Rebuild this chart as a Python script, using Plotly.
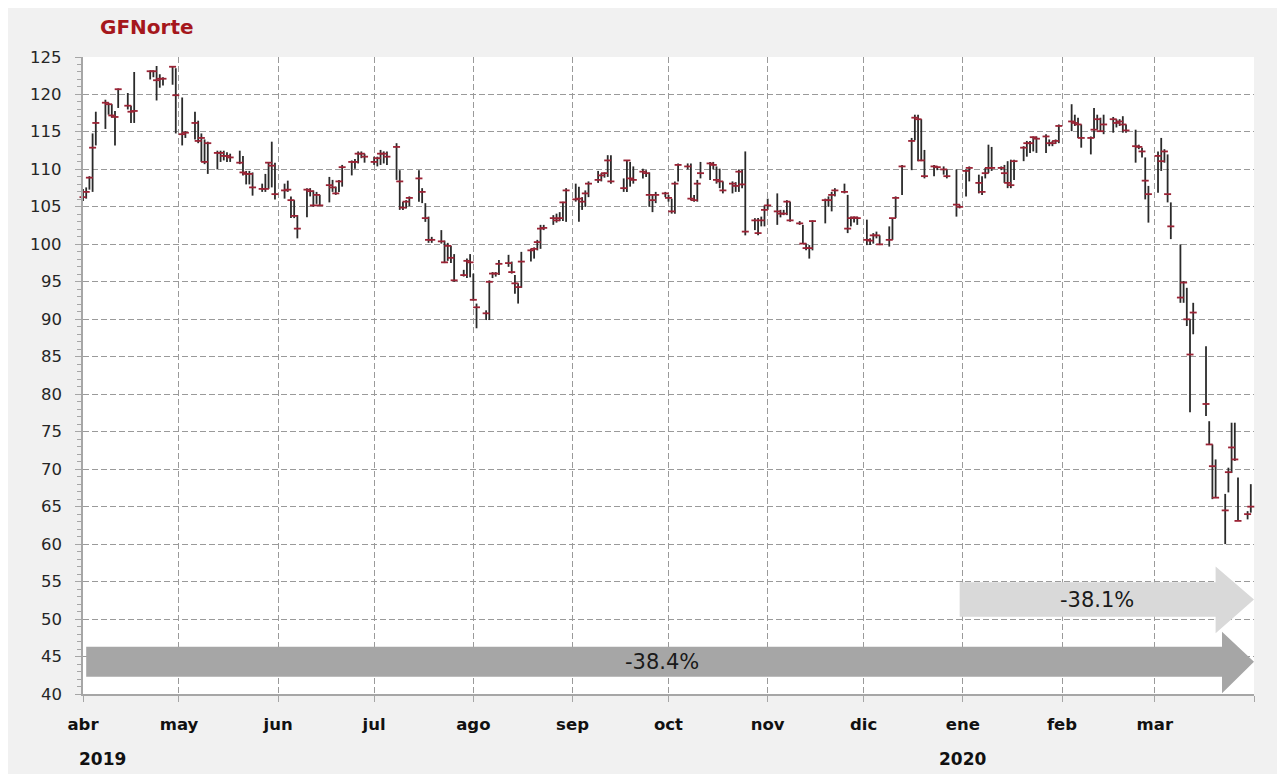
import pandas as pd
import plotly.graph_objects as go

# ---------------- data ----------------
holidays = ["2019-04-18", "2019-04-19", "2019-05-01", "2019-09-16", "2019-11-18",
            "2019-12-12", "2019-12-25", "2020-01-01", "2020-02-03", "2020-03-16"]

high = [
    # abr 2019
    107.4, 107.6, 109.1, 114.8, 117.7, 119.3, 118.9, 118.7, 117.8, 120.8,
    120.2, 118.5, 123.0, 123.2, 123.2, 123.8, 122.7, 122.3, 123.8, 123.5,
    # may
    119.6, 115.1, 117.7, 116.5, 114.8, 114.0, 113.7, 112.5, 112.5, 112.5, 112.3,
    112.1, 112.5, 111.8, 109.8, 109.8, 109.6, 108.1, 109.4, 110.9, 113.7, 110.9,
    # jun
    108.1, 108.5, 106.4, 105.9, 103.9, 107.5, 107.5, 107.2, 107.0, 106.6,
    109.0, 108.6, 107.7, 108.6, 110.6, 111.2, 111.4, 112.4, 112.4, 112.1,
    # jul
    111.7, 111.7, 112.6, 112.4, 112.4, 113.5, 109.9, 105.7, 105.9, 106.4, 109.9, 107.5,
    105.5, 103.7, 101.0, 101.9, 100.5, 100.2, 99.8, 98.7, 96.6, 98.1, 98.7,
    # ago
    96.1, 92.1, 91.2, 95.2, 96.3, 96.3, 97.9, 98.6, 97.7, 95.9, 94.8,
    99.0, 99.4, 99.6, 100.6, 102.6, 102.6, 103.9, 104.1, 104.3, 105.7, 107.5,
    # sep
    108.1, 107.7, 106.3, 107.2, 108.4, 109.8, 109.5, 109.6, 111.9, 111.9,
    108.8, 111.2, 111.0, 110.4, 110.1, 109.9, 109.6, 106.6, 107.0, 107.0,
    # oct
    106.6, 106.1, 108.4, 110.8, 110.8, 110.8, 106.6, 108.6, 111.0, 111.0, 111.0, 110.4,
    110.1, 108.4, 108.4, 108.3, 110.0, 110.0, 112.4, 103.5, 103.5, 103.7, 105.2,
    # nov
    106.1, 106.8, 104.6, 104.6, 105.9, 105.7, 103.1, 102.6, 100.1, 99.9,
    103.2, 106.1, 106.4, 107.0, 107.5, 108.1, 106.6, 103.7, 103.7, 103.7,
    # dic
    103.3, 100.8, 101.5, 101.7, 101.2, 102.4, 103.5, 106.4, 110.6, 114.2,
    117.3, 117.3, 116.7, 112.6, 110.6, 110.4, 110.4, 110.0, 110.0, 105.3,
    # ene 2020
    110.0, 110.4, 109.3, 109.1, 110.2, 113.3, 113.0, 110.4, 110.6, 111.1, 111.3,
    111.3, 113.1, 113.8, 113.8, 114.4, 114.4, 114.7, 114.0, 113.8, 114.0, 116.0,
    # feb
    118.7, 117.3, 116.9, 116.0, 114.4, 118.2, 117.3, 116.9, 117.3, 117.0,
    116.7, 116.7, 117.1, 116.0, 115.3, 113.3, 112.9, 111.6, 107.8,
    # mar
    112.4, 114.2, 112.7, 112.0, 105.6, 100.0, 95.1, 94.2, 90.0, 92.2, 86.4,
    76.4, 73.3, 71.3, 66.7, 70.2, 76.2, 76.2, 68.9, 64.4, 68.0,
]

low = [
    # abr 2019
    105.8, 106.1, 107.3, 107.0, 113.2, 115.4, 117.3, 116.9, 113.2, 118.2,
    118.0, 116.2, 116.2, 122.0, 122.3, 119.2, 120.9, 121.2, 121.3, 114.8,
    # may
    113.2, 114.2, 114.0, 113.5, 111.0, 110.7, 109.4, 110.0, 111.0, 111.2, 111.0,
    111.0, 110.7, 109.2, 108.0, 108.0, 106.5, 107.0, 107.0, 107.4, 107.6, 106.0,
    # jun
    106.1, 107.0, 103.5, 103.5, 100.8, 103.6, 106.4, 105.0, 105.4, 105.2,
    105.6, 107.0, 106.6, 107.0, 107.7, 109.2, 110.1, 110.8, 111.5, 110.9,
    # jul
    110.6, 110.4, 110.6, 110.8, 110.6, 108.6, 104.6, 104.6, 104.8, 105.1, 105.7, 105.5,
    103.0, 100.2, 100.2, 100.1, 97.5, 97.8, 97.5, 95.0, 95.7, 95.5, 95.6,
    # ago
    92.5, 88.8, 89.9, 89.9, 95.5, 95.7, 95.9, 97.0, 96.1, 93.4, 92.1,
    94.2, 97.7, 98.1, 99.2, 99.4, 101.9, 102.6, 102.9, 103.1, 103.1, 103.0,
    # sep
    105.7, 103.0, 104.6, 105.0, 106.3, 108.2, 108.4, 108.9, 109.0, 108.1,
    107.0, 107.0, 107.7, 108.1, 108.8, 109.0, 105.0, 104.3, 105.5, 106.3,
    # oct
    105.7, 104.1, 104.1, 108.4, 110.0, 105.9, 105.7, 105.7, 108.8, 108.6, 110.0, 108.1,
    107.5, 106.8, 106.8, 107.0, 107.0, 107.5, 101.2, 101.9, 101.2, 102.4, 102.4,
    # nov
    104.6, 102.6, 103.6, 103.9, 103.9, 103.0, 102.6, 100.1, 99.2, 98.1,
    99.2, 102.8, 105.0, 104.4, 106.4, 106.8, 101.5, 102.4, 102.9, 102.6,
    # dic
    99.9, 99.9, 100.1, 100.8, 99.9, 99.7, 100.6, 103.5, 106.6, 109.9,
    113.9, 111.1, 111.1, 108.8, 109.1, 109.9, 109.3, 108.8, 103.7, 104.8,
    # ene 2020
    106.4, 108.4, 106.8, 106.6, 108.8, 109.5, 109.8, 109.9, 108.2, 107.5, 107.5,
    108.6, 111.1, 111.7, 112.2, 112.4, 112.2, 112.2, 113.1, 113.1, 113.4, 113.5,
    # feb
    115.1, 115.8, 114.2, 112.9, 112.0, 114.2, 115.3, 115.0, 114.7, 114.9,
    115.6, 115.8, 114.9, 114.9, 110.9, 112.7, 111.6, 106.0, 102.9,
    # mar
    106.9, 109.8, 110.9, 105.6, 100.7, 92.2, 92.2, 89.1, 77.6, 88.0, 77.1,
    73.3, 66.0, 66.2, 60.0, 66.9, 69.5, 71.1, 63.1, 63.3, 64.2,
]

close = [
    # abr 2019
    106.3, 107.0, 108.9, 112.9, 116.2, 118.9, 118.7, 117.2, 117.0, 120.7,
    118.5, 117.7, 117.8, 123.1, 123.1, 121.9, 122.1, 122.1, 123.7, 119.9,
    # may
    114.7, 114.9, 116.2, 113.8, 114.2, 111.0, 113.5, 112.2, 112.2, 111.8, 111.8,
    111.6, 110.9, 109.6, 109.4, 109.4, 107.6, 107.4, 107.4, 110.9, 110.5, 106.7,
    # jun
    107.2, 107.3, 105.9, 103.8, 102.1, 107.3, 107.1, 105.2, 106.6, 105.2,
    107.9, 107.6, 106.8, 108.4, 110.3, 111.0, 111.0, 112.1, 112.1, 111.7,
    # jul
    111.0, 111.5, 112.1, 112.1, 111.7, 113.0, 108.4, 104.9, 105.7, 106.2, 108.8, 107.0,
    103.5, 100.6, 100.6, 100.4, 97.6, 99.8, 98.2, 95.2, 95.9, 97.8, 97.6,
    # ago
    92.6, 91.6, 90.8, 95.0, 96.1, 96.1, 97.4, 97.5, 96.3, 94.8, 94.3,
    97.7, 99.2, 99.4, 100.3, 102.1, 102.2, 103.5, 103.2, 103.5, 105.6, 107.2,
    # sep
    106.0, 106.1, 105.7, 106.8, 108.1, 108.6, 109.2, 109.5, 111.2, 108.4,
    107.5, 111.2, 108.8, 108.6, 109.7, 109.5, 106.6, 105.9, 106.6, 106.8,
    # oct
    106.2, 104.4, 108.1, 110.6, 110.4, 106.1, 105.9, 108.1, 109.5, 110.8, 110.6, 108.6,
    108.4, 107.2, 108.1, 107.8, 109.7, 108.0, 101.7, 103.2, 101.5, 103.2, 104.6,
    # nov
    105.2, 104.4, 104.1, 104.1, 105.7, 103.2, 102.8, 100.1, 99.5, 99.5,
    103.1, 105.9, 105.9, 106.6, 107.2, 107.0, 102.1, 103.5, 103.6, 103.5,
    # dic
    100.6, 100.5, 101.2, 101.2, 100.0, 100.6, 103.5, 106.2, 110.4, 113.8,
    116.9, 116.7, 111.2, 109.1, 110.4, 110.3, 110.0, 109.1, 105.3, 105.0,
    # ene 2020
    109.8, 110.2, 108.2, 107.0, 109.5, 110.2, 110.2, 110.2, 109.5, 108.2, 107.9,
    111.1, 112.9, 113.5, 113.5, 114.3, 114.1, 114.4, 113.5, 113.5, 113.8, 115.8,
    # feb
    116.4, 116.2, 116.0, 114.2, 114.2, 115.3, 116.7, 115.1, 116.0, 116.7,
    116.2, 116.4, 116.0, 115.2, 113.1, 113.0, 112.4, 108.5, 106.7,
    # mar
    111.8, 111.1, 112.4, 106.7, 102.4, 92.9, 94.9, 90.0, 85.3, 90.9, 78.7,
    73.3, 70.4, 66.2, 64.5, 69.6, 72.9, 71.3, 63.1, 64.0, 65.0,
]

month_ticks = ["2019-04-01", "2019-05-01", "2019-06-01", "2019-07-01", "2019-08-01",
               "2019-09-01", "2019-10-01", "2019-11-01", "2019-12-01", "2020-01-01",
               "2020-02-01", "2020-03-01", "2020-04-01"]
month_labels = ["abr", "may", "jun", "jul", "ago", "sep", "oct", "nov", "dic",
                "ene", "feb", "mar", ""]
year_labels = ["2019", "2020"]
year_dates = ["2019-04-07", "2020-01-01"]
y_ticks = [40, 45, 50, 55, 60, 65, 70, 75, 80, 85, 90, 95, 100, 105, 110, 115, 120, 125]

change_labels = ["-38.4%", "-38.1%"]
change_start = ["2019-04-02", "2019-12-31"]
change_end = "2020-04-01"

# ---------------- derived ----------------
dates = [d for d in pd.bdate_range("2019-04-01", "2020-03-31")
         if d.strftime("%Y-%m-%d") not in holidays]
n = min(len(dates), len(high), len(low), len(close))
dates = dates[:n]
err_up = [h - c for h, c in zip(high[:n], close[:n])]
err_dn = [c - l for l, c in zip(low[:n], close[:n])]

FONT = "DejaVu Sans, Noto Sans, sans-serif"

fig = go.Figure()


def arrow(x0, x_head, x_tip, y_lo, y_hi, head_lo, head_hi, color):
    ym = (y_lo + y_hi) / 2
    xs = [x0, x_head, x_head, x_tip, x_head, x_head, x0, x0]
    ys = [y_lo, y_lo, head_lo, ym, head_hi, y_hi, y_hi, y_lo]
    return go.Scatter(x=xs, y=ys, mode="lines", fill="toself", fillcolor=color,
                      line=dict(width=0, color=color), hoverinfo="skip",
                      showlegend=False, cliponaxis=False)


fig.add_trace(arrow(change_start[0], "2020-03-22", change_end,
                    42.3, 46.3, 40.1, 48.3, "#a6a6a6"))
fig.add_trace(arrow(change_start[1], "2020-03-20", change_end,
                    50.3, 54.9, 48.1, 57.0, "#d9d9d9"))

fig.add_trace(go.Scatter(
    x=dates, y=close[:n], mode="markers",
    marker=dict(symbol="line-ew", size=5, color="#9b2335",
                line=dict(width=1.8, color="#9b2335")),
    error_y=dict(type="data", symmetric=False, array=err_up, arrayminus=err_dn,
                 color="#2a2a2a", thickness=1.8, width=0),
    cliponaxis=False, showlegend=False, name="GFNorte",
))

grid = "#9a9a9a"
fig.update_layout(
    width=1269, height=766,
    margin=dict(l=75, r=23, t=49, b=80),
    paper_bgcolor="#f1f1f1", plot_bgcolor="#ffffff",
    font=dict(family=FONT, color="#262626"),
    showlegend=False,
    xaxis=dict(
        type="date", range=["2019-04-01", "2020-04-01"],
        tickmode="array", tickvals=month_ticks, ticktext=month_labels,
        showgrid=True, gridcolor=grid, griddash="6px,3px", gridwidth=1,
        showline=True, linecolor="#a6a6a6", linewidth=1.5,
        ticks="outside", ticklen=6, tickcolor="#a6a6a6",
        tickfont=dict(size=16.5, color="#111111", family=FONT, weight="bold"),
        ticklabelstandoff=8,
        zeroline=False,
    ),
    yaxis=dict(
        range=[40, 125], tickmode="array", tickvals=y_ticks,
        showgrid=True, gridcolor=grid, griddash="6px,3px", gridwidth=1,
        showline=True, linecolor="#a6a6a6", linewidth=1.5,
        ticks="outside", ticklen=6, tickcolor="#a6a6a6",
        minor=dict(dtick=1, ticks="outside", ticklen=4, tickcolor="#a6a6a6",
                   showgrid=False),
        showticklabels=False,
        zeroline=False,
    ),
)

# y tick labels placed further from the axis (as in the reference)
for v in y_ticks:
    fig.add_annotation(text=str(v), xref="paper", yref="y", x=-0.0158, y=v,
                       xanchor="right", yanchor="middle", showarrow=False,
                       font=dict(size=16.5, color="#262626", family=FONT))

# title
fig.add_annotation(text="<b>GFNorte</b>", xref="paper", yref="paper",
                   x=0.0125, y=1.0475, xanchor="left", yanchor="middle",
                   showarrow=False, font=dict(size=20, color="#a5171c", family=FONT))

# years
for lab, d in zip(year_labels, year_dates):
    fig.add_annotation(text=f"<b>{lab}</b>", x=d, xref="x", yref="paper", y=-0.1016,
                       xanchor="center", yanchor="middle", showarrow=False,
                       font=dict(size=17, color="#111111", family=FONT))

# change labels
fig.add_annotation(text=change_labels[0], x="2019-09-29", y=44.3, xref="x", yref="y",
                   showarrow=False, font=dict(size=21, color="#1a1a1a", family=FONT))
fig.add_annotation(text=change_labels[1], x="2020-02-12", y=52.6, xref="x", yref="y",
                   showarrow=False, font=dict(size=21, color="#1a1a1a", family=FONT))

fig.write_html("out.html")
